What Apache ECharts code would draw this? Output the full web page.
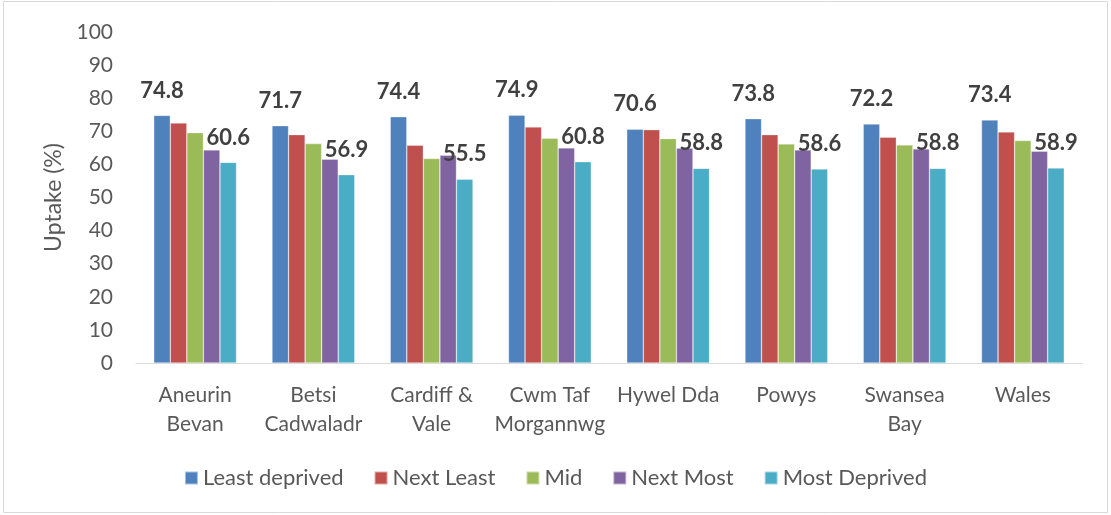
<!DOCTYPE html>
<html>
<head>
<meta charset="utf-8">
<script src="https://cdn.jsdelivr.net/npm/echarts@6/dist/echarts.min.js"></script>
<style>
  html, body { margin: 0; padding: 0; background: #fff; }
  #main { width: 1111px; height: 515px; }
</style>
</head>
<body>
<div id="main"></div>
<script>
// health boards
var boards = ['Aneurin\nBevan', 'Betsi\nCadwaladr', 'Cardiff &\nVale', 'Cwm Taf\nMorgannwg',
    'Hywel Dda', 'Powys', 'Swansea\nBay', 'Wales'];

// uptake (%) per deprivation group
var leastDeprived = [74.8, 71.7, 74.4, 74.9, 70.6, 73.8, 72.2, 73.4];
var nextLeast     = [72.5, 69.0, 65.8, 71.3, 70.5, 69.0, 68.2, 69.8];
var mid           = [69.6, 66.3, 61.8, 67.9, 67.8, 66.2, 65.9, 67.2];
var nextMost      = [64.4, 61.6, 62.8, 65.0, 64.9, 64.4, 64.7, 64.0];
var mostDeprived  = [60.6, 56.9, 55.5, 60.8, 58.8, 58.6, 58.8, 58.9];

var yTicks = [0, 10, 20, 30, 40, 50, 60, 70, 80, 90, 100];

var fontName = 'Lato';
var textColor = '#595959';

//bar series builder
function makeSeries(name, data, color, showLabel) {
    return {
        name: name,
        type: 'bar',
        data: data,
        barGap: '0%',
        barCategoryGap: '30%',
        itemStyle: { color: color, borderColor: 'rgba(255,255,255,0.5)', borderWidth: 0.6 },
        label: {
            show: showLabel,
            position: 'top',
            distance: 14,
            fontFamily: fontName,
            fontSize: 22,
            fontWeight: 'bold',
            color: '#404040'
        }
    };
}

var myChart = echarts.init(document.getElementById('main'));

var option = {
    animation: false,
    backgroundColor: '#fff',
    textStyle: { fontFamily: fontName },
    graphic: [{
        type: 'rect',
        shape: { x: 3.5, y: 1.5, width: 1104, height: 511 },
        style: { fill: 'none', stroke: '#d9d9d9', lineWidth: 1 },
        silent: true
    }],
    legend: {
        bottom: 21,
        left: 'center',
        itemWidth: 13,
        itemHeight: 13,
        itemGap: 30,
        icon: 'rect',
        textStyle: { fontFamily: fontName, fontSize: 22, color: textColor },
        data: ['Least deprived', 'Next Least', 'Mid', 'Next Most', 'Most Deprived']
    },
    grid: { left: 136, right: 29, top: 32, bottom: 152 },
    xAxis: {
        type: 'category',
        data: boards,
        axisLine: { lineStyle: { color: '#d9d9d9', width: 1 } },
        axisTick: { show: false },
        axisLabel: {
            interval: 0,
            margin: 18,
            lineHeight: 29,
            fontFamily: fontName,
            fontSize: 21,
            color: textColor
        }
    },
    yAxis: {
        type: 'value',
        min: yTicks[0],
        max: yTicks[yTicks.length - 1],
        interval: 10,
        name: 'Uptake (%)',
        nameLocation: 'middle',
        nameGap: 70,
        nameTextStyle: { fontFamily: fontName, fontSize: 23, color: textColor },
        axisLine: { show: false },
        axisTick: { show: false },
        splitLine: { show: false },
        axisLabel: { margin: 23, fontFamily: fontName, fontSize: 21, color: textColor }
    },
    series: [
        makeSeries('Least deprived', leastDeprived, '#4f81bd', true),
        makeSeries('Next Least', nextLeast, '#c0504d', false),
        makeSeries('Mid', mid, '#9bbb59', false),
        makeSeries('Next Most', nextMost, '#8064a2', false),
        makeSeries('Most Deprived', mostDeprived, '#4bacc6', true)
    ]
};

myChart.setOption(option, true);
</script>
</body>
</html>
